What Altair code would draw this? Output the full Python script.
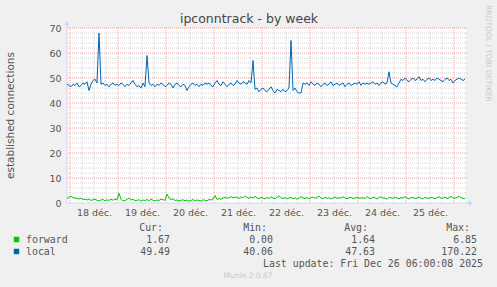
import altair as alt
import pandas as pd

# ---- data (hourly samples, starting Dec 17 22:30) ----
local = [47.5, 47, 46.5, 47.5, 47, 48, 46.5, 47, 48, 47.5, 48.5, 45, 47.5, 49, 49.5, 48,
         68,
         47.5, 48, 47, 47.5, 46.5, 47.5, 48, 47, 47.5, 47, 48, 47.5, 46.5, 47.5, 47, 48, 49, 47.5, 46.5, 47, 46, 48, 46.5,
         59,
         48, 47, 47.5, 46.5, 47.5, 47, 48, 47.5, 46.5, 47, 48, 47.5, 46, 47.5, 48, 47, 46.5, 47.5, 47, 45, 46.5,
         47.5, 48, 47, 47.5, 46.5, 47.5, 47, 48, 47.5, 48, 47, 46.5, 48, 49, 47.5, 47, 48.5, 47.5, 46.5, 47.5,
         48, 47, 47.5, 49, 48, 47.5, 48.5, 48, 47.5, 49, 48,
         57,
         45.5, 46, 44.5, 45.5, 46, 45, 44.5, 45.5, 46.5, 45, 44, 45.5, 45, 44.5, 45.5, 44.5, 45, 46,
         65,
         45, 46, 44.5, 44, 44,
         48, 47.5, 48, 47, 48.5, 47.5, 47, 48, 47.5, 46.5, 47.5, 48, 47, 47.5, 48.5, 47, 47.5, 48, 47, 47.5,
         48, 46.5, 47.5, 48, 47, 47.5, 48, 47.5, 48.5, 47, 48, 47.5, 48, 47.5, 48, 48.5, 47.5, 48, 47, 48,
         48.5, 47.5, 48,
         52.5,
         48, 47.5, 47, 46.5, 48,
         49.5, 49, 50, 49, 48.5, 49.5, 50, 49, 49.5, 50.5, 49, 49.5, 48.5, 49.5, 50, 49, 49.5, 49, 50, 49.5,
         49, 48.5, 49.5, 50, 49, 49.5, 48, 49, 49.5, 50, 49.5, 49, 49.5]

forward = [1.8, 2.4, 2.7, 2.2, 2.0,
           1.8, 1.6, 1.9, 1.4, 1.5, 1.2, 1.6, 1.0, 1.3, 1.5, 1.1, 0.8, 1.2, 1.4, 0.9, 1.3, 1.0, 1.5, 1.1, 1.6, 1.3,
           3.9,
           1.5, 0.8, 1.0, 1.4, 2.0, 1.2, 1.5, 0.9, 1.1, 1.3, 0.7, 1.2, 1.0, 1.4, 0.9, 1.6, 1.1, 0.8, 1.2, 1.0, 1.5, 1.3, 1.1,
           3.6,
           2.0, 1.4, 1.6, 1.0, 1.2, 0.8, 1.1, 1.3, 0.9, 1.2, 0.7, 1.0, 1.4, 0.9, 1.2, 1.0, 0.8, 1.3, 1.1, 0.9, 1.4, 1.2, 1.5,
           3.0,
           1.4, 1.8, 1.5, 2.0, 2.3, 1.9, 2.1, 2.6, 2.0, 2.4,
           2.2, 1.8, 2.5, 2.1, 2.9, 2.2, 1.9, 2.4, 2.0, 2.7,
           2.1, 1.7, 2.3, 2.0, 1.6, 2.2, 1.8, 2.5, 2.0, 1.7,
           2.4, 2.9, 2.1, 1.8, 2.2, 1.6, 2.0, 2.3, 1.7, 2.1,
           1.5, 1.9, 2.6, 2.0, 1.8, 2.2, 1.6, 2.1, 2.4, 1.9,
           2.2, 2.8, 2.0, 1.7, 2.3, 1.9, 2.1, 1.6, 2.0, 2.4,
           1.8, 2.2, 1.9, 2.5, 2.0, 1.7, 2.1, 2.3, 1.8, 2.0,
           2.2, 1.9, 2.0, 2.1, 1.8, 2.6, 2.0, 1.7, 2.4, 2.1,
           1.6, 2.2, 2.5, 1.9, 2.0, 1.5, 2.3, 2.1, 1.8, 2.4,
           2.0, 1.7, 2.2, 1.9, 2.6, 2.0, 1.6, 2.1, 2.3, 1.8,
           2.0, 2.4, 1.9, 1.6, 2.2, 2.0, 1.8, 2.3, 2.1, 1.7,
           2.2, 2.5, 1.9, 2.0, 2.3, 1.8, 2.1, 2.7, 2.0, 1.9,
           2.2, 2.8, 2.0, 1.9, 1.7]

# hours relative to Dec 18 00:00
hours = [-1.5 + i for i in range(len(local))]

day_labels = ["18 déc.", "19 déc.", "20 déc.", "21 déc.", "22 déc.", "23 déc.", "24 déc.", "25 déc."]
day_centers = [12, 36, 60, 84, 108, 132, 156, 180]
midnights = [0, 24, 48, 72, 96, 120, 144, 168, 192]
six_hours = [h for h in range(-6, 199, 6) if h % 24 != 0 and h >= -1.5]
y_ticks = [0, 10, 20, 30, 40, 50, 60, 70]
y_minor = [v for v in range(2, 70, 2) if v % 10 != 0]

series_names = ["forward", "local"]
series_colors = ["#00CC00", "#0066B3"]
cur = [1.67, 49.49]
mins = [0.00, 40.06]
avgs = [1.64, 47.63]
maxs = [6.85, 170.22]

X_DOMAIN = [-1.5, 198.5]
Y_DOMAIN = [0, 70]
W, H = 400, 175

xs = alt.Scale(domain=X_DOMAIN, nice=False, zero=False)
ys = alt.Scale(domain=Y_DOMAIN, nice=False)

label_expr = ""
for c, l in zip(day_centers, day_labels):
    label_expr += f"datum.value == {c} ? '{l}' : "
label_expr += "''"

XAX = alt.Axis(values=day_centers, labelExpr=label_expr, grid=False, ticks=False, domain=False,
               title=None, labelPadding=4, labelFontSize=9.5, labelColor="#555",
               labelFont="DejaVu Sans", labelFlush=False, labelOverlap=False)
YAX = alt.Axis(values=y_ticks, grid=False, ticks=False, domain=False, title=None, labelPadding=6,
               labelFontSize=9.5, labelColor="#555", labelFont="DejaVu Sans")

df = pd.DataFrame({
    "h": hours * 2,
    "v": forward + local,
    "series": ["forward"] * len(forward) + ["local"] * len(local),
})

dummy = pd.DataFrame({"k": [0]})

def label(text, x, y, size, color, font="DejaVu Sans", align="left", baseline="middle", angle=None):
    kw = dict(text=text, fontSize=size, color=color, font=font, align=align, baseline=baseline)
    if angle is not None:
        kw["angle"] = angle
    return alt.Chart(dummy).mark_text(**kw).encode(x=alt.value(x), y=alt.value(y))

grid_minor_col = "#d4d4d4"
grid_major_col = "#eea0a0"
axis_col = "#CFD6F8"

hminor = alt.Chart(pd.DataFrame({"v": y_minor})).mark_rule(
    color=grid_minor_col, strokeDash=[1, 1], strokeWidth=1).encode(y=alt.Y("v:Q", scale=ys, axis=YAX))
vminor = alt.Chart(pd.DataFrame({"h": six_hours})).mark_rule(
    color=grid_minor_col, strokeDash=[1, 1], strokeWidth=1).encode(x=alt.X("h:Q", scale=xs, axis=XAX))
hmajor = alt.Chart(pd.DataFrame({"v": y_ticks[1:]})).mark_rule(
    color=grid_major_col, strokeDash=[1, 1], strokeWidth=1).encode(y=alt.Y("v:Q", scale=ys, axis=YAX))
vmajor = alt.Chart(pd.DataFrame({"h": midnights})).mark_rule(
    color=grid_major_col, strokeDash=[1, 1], strokeWidth=1).encode(x=alt.X("h:Q", scale=xs, axis=XAX))

lines = alt.Chart(df).mark_line(strokeWidth=1, interpolate="linear").encode(
    x=alt.X("h:Q", scale=xs, axis=XAX),
    y=alt.Y("v:Q", scale=ys, axis=YAX),
    color=alt.Color("series:N", scale=alt.Scale(domain=series_names, range=series_colors), legend=None),
    detail="series:N",
)

left_axis = alt.Chart(dummy).mark_rule(color=axis_col, strokeWidth=1).encode(
    x=alt.value(0), y=alt.value(-3), y2=alt.value(H))
bottom_axis = alt.Chart(dummy).mark_rule(color=axis_col, strokeWidth=1).encode(
    x=alt.value(0), x2=alt.value(W + 4), y=alt.value(H))
up_arrow = alt.Chart(dummy).mark_point(shape="triangle-up", filled=True, color=axis_col, size=30, opacity=1).encode(
    x=alt.value(0), y=alt.value(-5))
right_arrow = alt.Chart(dummy).mark_point(shape="triangle-right", filled=True, color=axis_col, size=30, opacity=1).encode(
    x=alt.value(W + 4), y=alt.value(H))

texts = [
    label("ipconntrack - by week", 182, -5, 12.5, "#444", align="center", baseline="alphabetic"),
    label("established connections", -56, 87.5, 10.5, "#555", align="center", angle=270),
    label("RRDTOOL / TOBI OETIKER", 421, 25.5, 7.5, "#c8c8c8", align="center", angle=90),
    label("Munin 2.0.67", 181, 248, 7.5, "#c8c8c8", align="center"),
]

mono = "DejaVu Sans Mono"
tc = "#555"
fs = 9.9
headers = ["Cur:", "Min:", "Avg:", "Max:"]
header_x = [96, 200, 301, 403]
value_x = [103, 206, 308, 410]
for hx, ht in zip(header_x, headers):
    texts.append(label(ht, hx, 200, fs, tc, font=mono, align="right"))
row_y = [211.5, 223.5]
for i, name in enumerate(series_names):
    texts.append(alt.Chart(dummy).mark_square(size=30, color=series_colors[i], opacity=1).encode(
        x=alt.value(-50.5), y=alt.value(row_y[i])))
    texts.append(label(name, -41, row_y[i], fs, tc, font=mono, align="left"))
    for vx, arr in zip(value_x, [cur, mins, avgs, maxs]):
        texts.append(label(f"{arr[i]:.2f}", vx, row_y[i], fs, tc, font=mono, align="right"))
texts.append(label("Last update: Fri Dec 26 06:00:08 2025", 416, 236, fs, tc, font=mono, align="right"))

chart = alt.layer(hminor, vminor, hmajor, vmajor, left_axis, bottom_axis, lines, up_arrow, right_arrow, *texts).properties(
    width=W, height=H,
    autosize=alt.AutoSizeParams(type="none"),
    padding={"left": 67, "top": 28, "right": 30, "bottom": 84},
    background="#F0F0F0",
).configure_view(fill="white", strokeWidth=0)

chart.save("out.html", embed_options={"renderer": "svg", "actions": False})
